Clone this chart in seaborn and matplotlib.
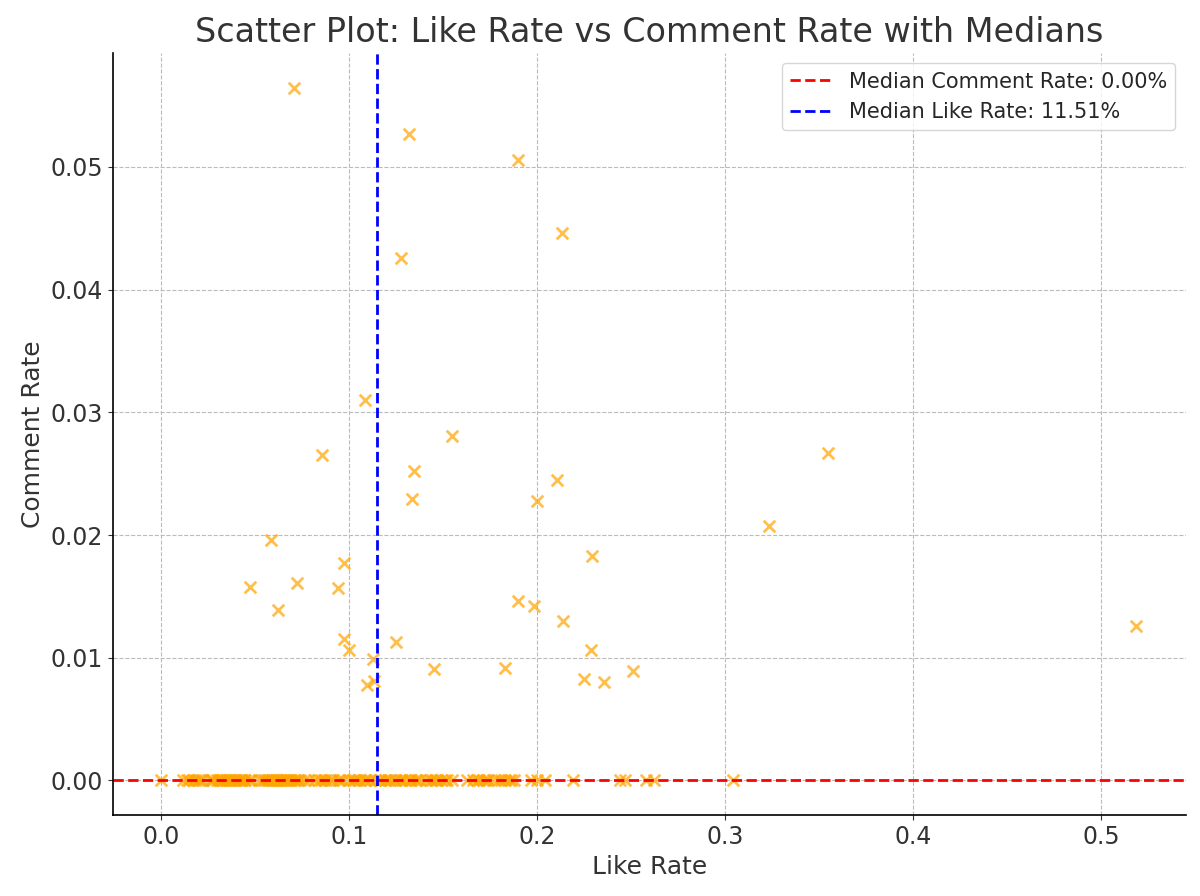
import matplotlib
matplotlib.use("Agg")
import matplotlib.pyplot as plt
import pandas as pd
import seaborn as sns

# Points with a non-zero comment rate (like rate, comment rate)
like_nonzero = [0.0707, 0.1319, 0.1899, 0.2133, 0.1277, 0.1085, 0.1548, 0.0856,
                0.3548, 0.1346, 0.2106, 0.1335, 0.2000, 0.3234, 0.0585, 0.0973,
                0.2293, 0.0723, 0.0473, 0.0941, 0.0622, 0.1899, 0.1984, 0.2138,
                0.5181, 0.0973, 0.1250, 0.1000, 0.2287, 0.1128, 0.1452, 0.1830,
                0.2511, 0.2250, 0.2356, 0.1096, 0.1133]
comment_nonzero = [0.0564, 0.0527, 0.0506, 0.0446, 0.0426, 0.0310, 0.0281, 0.0265,
                   0.0267, 0.0252, 0.0245, 0.0229, 0.0228, 0.0207, 0.0196, 0.0177,
                   0.0183, 0.0161, 0.0158, 0.0157, 0.0139, 0.0146, 0.0142, 0.0130,
                   0.0126, 0.0115, 0.0113, 0.0106, 0.0106, 0.0099, 0.0091, 0.0092,
                   0.0089, 0.0083, 0.0080, 0.0078, 0.0081]

# Points with zero comments (like rate only)
like_zero = [0.0, 0.012, 0.014, 0.015, 0.017, 0.018, 0.020, 0.021, 0.022, 0.026,
             0.027, 0.028, 0.030, 0.031, 0.032, 0.033, 0.034, 0.035, 0.036, 0.037,
             0.038, 0.039, 0.040, 0.041, 0.042, 0.043, 0.044, 0.045, 0.047, 0.048,
             0.052, 0.054, 0.055, 0.056, 0.057, 0.058, 0.059, 0.060, 0.061, 0.062,
             0.063, 0.064, 0.065, 0.066, 0.067, 0.068, 0.069, 0.071, 0.072, 0.073,
             0.074, 0.076, 0.078, 0.082, 0.084, 0.085, 0.087, 0.088, 0.090, 0.091,
             0.094, 0.095, 0.097, 0.100, 0.102, 0.103, 0.105, 0.106, 0.108, 0.109,
             0.111, 0.114, 0.116, 0.117, 0.119, 0.121, 0.122, 0.124, 0.125, 0.127,
             0.128, 0.130, 0.132, 0.133, 0.135, 0.136, 0.138, 0.141, 0.143, 0.144,
             0.146, 0.147, 0.149, 0.151, 0.152, 0.155, 0.163, 0.166, 0.168, 0.169,
             0.171, 0.173, 0.174, 0.177, 0.179, 0.181, 0.183, 0.185, 0.186, 0.188,
             0.197, 0.200, 0.204, 0.219, 0.244, 0.247, 0.258, 0.262, 0.304]

median_like = 0.1151
median_comment = 0.0

df = pd.DataFrame({
    "Like Rate": like_nonzero + like_zero,
    "Comment Rate": comment_nonzero + [0.0] * len(like_zero),
})

sns.set_style("ticks")
fig, ax = plt.subplots(figsize=(12, 8.96), dpi=100)
fig.subplots_adjust(left=0.094, right=0.988, top=0.941, bottom=0.09)

sns.scatterplot(data=df, x="Like Rate", y="Comment Rate", marker="x", color="orange",
                alpha=0.7, s=70, linewidth=2, ax=ax)

ax.axhline(median_comment, color="red", linestyle="--", linewidth=2,
           label=f"Median Comment Rate: {median_comment:.2%}")
ax.axvline(median_like, color="blue", linestyle="--", linewidth=2,
           label=f"Median Like Rate: {median_like:.2%}")

ax.set_xlim(-0.0255, 0.5447)
ax.set_ylim(-0.00285, 0.0593)
ax.set_title("Scatter Plot: Like Rate vs Comment Rate with Medians", fontsize=24,
             color="#333333", pad=8)
ax.set_xlabel("Like Rate", fontsize=18, color="#333333")
ax.set_ylabel("Comment Rate", fontsize=18, color="#333333")
ax.tick_params(labelsize=17, colors="#333333")
ax.grid(True, linestyle="--", color="#bbbbbb", linewidth=0.8)
ax.legend(fontsize=15, loc="upper right", handlelength=2.0)
sns.despine(ax=ax)
for sp in ["left", "bottom"]:
    ax.spines[sp].set_color("black")
    ax.spines[sp].set_linewidth(1.2)

fig.savefig("out.png")
